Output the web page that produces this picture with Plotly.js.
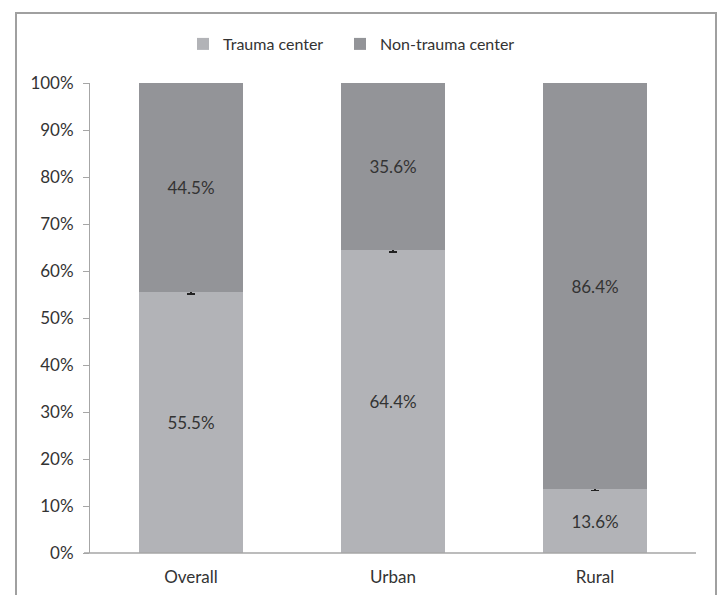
<!DOCTYPE html>
<html>
<head>
<meta charset="utf-8">
<script src="https://cdn.plot.ly/plotly-3.0.1.min.js"></script>
<style>
  html, body { margin: 0; padding: 0; background: #fff; }
  #chart { width: 718px; height: 595px; }
</style>
</head>
<body>
<div id="chart"></div>
<script>
const categories = ["Overall", "Urban", "Rural"];
const traumaValues = [55.5, 64.4, 13.6];
const nonTraumaValues = [44.5, 35.6, 86.4];
const traumaErrors = [0.35, 0.35, 0.35];
const seriesNames = ["Trauma center", "Non-trauma center"];
const yTickValues = [0, 10, 20, 30, 40, 50, 60, 70, 80, 90, 100];

const fontFamily = "Lato, 'Open Sans', 'Liberation Sans', sans-serif";

const traces = [
  {
    type: "bar",
    name: seriesNames[0],
    legend: "legend",
    x: categories,
    y: traumaValues,
    marker: { color: "#b2b3b7" },
    text: traumaValues.map(v => v.toFixed(1) + "%"),
    textposition: "inside",
    insidetextanchor: "middle",
    textangle: 0,
    constraintext: "none",
    textfont: { family: fontFamily, size: 17, color: "#333333" },
    error_y: { type: "data", array: traumaErrors, visible: true, color: "#222222", thickness: 1.5, width: 4 },
    hoverinfo: "skip"
  },
  {
    type: "bar",
    name: seriesNames[1],
    legend: "legend2",
    x: categories,
    y: nonTraumaValues,
    marker: { color: "#939498" },
    text: nonTraumaValues.map(v => v.toFixed(1) + "%"),
    textposition: "inside",
    insidetextanchor: "middle",
    textangle: 0,
    constraintext: "none",
    textfont: { family: fontFamily, size: 17, color: "#333333" },
    hoverinfo: "skip"
  }
];

const L = 90, R = 22, T = 83, B = 42;
const pw = 718 - L - R, ph = 595 - T - B;

function legendAt(px) {
  return {
    orientation: "h",
    x: (px - L) / pw,
    xanchor: "left",
    y: 1 + (T - 44) / ph,
    yanchor: "middle",
    font: { family: fontFamily, size: 16, color: "#333333" },
    itemwidth: 30,
    bgcolor: "rgba(0,0,0,0)"
  };
}

const layout = {
  width: 718,
  height: 595,
  margin: { l: L, r: R, t: T, b: B, pad: 0 },
  paper_bgcolor: "#ffffff",
  plot_bgcolor: "#ffffff",
  barmode: "stack",
  bargap: 0.485,
  showlegend: true,
  font: { family: fontFamily, size: 15, color: "#333333" },
  legend: legendAt(183),
  legend2: legendAt(340),
  xaxis: {
    type: "category",
    showgrid: false,
    zeroline: false,
    showline: false,
    ticks: "",
    tickfont: { family: fontFamily, size: 17, color: "#333333" },
    ticklabelstandoff: 12,
    fixedrange: true
  },
  yaxis: {
    range: [0, 100],
    tickvals: yTickValues,
    ticktext: yTickValues.map(v => v + "%"),
    showgrid: false,
    zeroline: false,
    showline: true,
    linecolor: "#a6a6a6",
    linewidth: 1,
    ticks: "outside",
    ticklen: 6,
    tickcolor: "#a6a6a6",
    tickfont: { family: fontFamily, size: 17, color: "#333333" },
    ticklabelstandoff: 6,
    fixedrange: true
  },
  shapes: [
    {
      type: "line", xref: "paper", yref: "paper",
      x0: -6 / pw, x1: 1, y0: 0, y1: 0,
      line: { color: "#a6a6a6", width: 1.5 }
    },
    {
      type: "rect", xref: "paper", yref: "paper",
      x0: (16 - L) / pw, x1: (716 - L) / pw,
      y0: -(B + 20) / ph, y1: 1 + (T - 13) / ph,
      line: { color: "#a0a0a0", width: 2 },
      fillcolor: "rgba(0,0,0,0)",
      layer: "below"
    }
  ]
};

Plotly.newPlot("chart", traces, layout, { displayModeBar: false, staticPlot: true });
</script>
</body>
</html>
